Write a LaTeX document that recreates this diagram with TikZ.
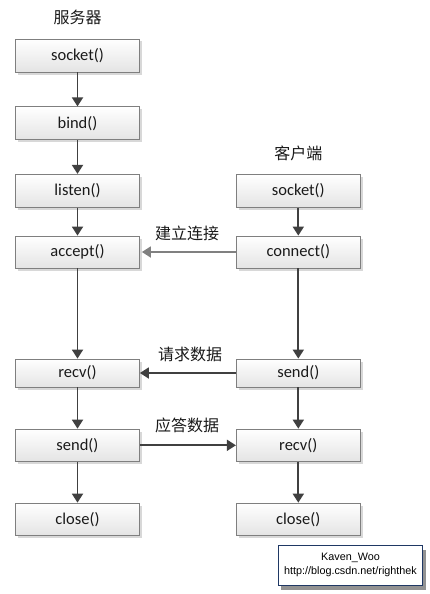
\documentclass[tikz,border=0pt]{standalone}
\usepackage{fontspec}
\setmainfont{Carlito}
\newfontfamily\cjkf{Noto Sans CJK SC}
\newfontfamily\arialf{Liberation Sans}
\usetikzlibrary{shadows,arrows.meta}
\definecolor{boxline}{HTML}{7F7F7F}
\definecolor{boxbot}{HTML}{E4E4E4}
\definecolor{textc}{HTML}{1A1A1A}
\definecolor{arrowc}{HTML}{404040}
\definecolor{lightarrow}{HTML}{808080}
\definecolor{navy}{HTML}{1F3864}
\tikzset{
  fnbox/.style={draw=boxline, line width=0.8pt, top color=white, bottom color=boxbot,
    minimum width=124pt, minimum height=33pt, inner sep=0pt, text=textc,
    font=\fontsize{16.5}{19}\selectfont,
    drop shadow={shadow xshift=2.5pt, shadow yshift=-2.5pt, fill=black!30, opacity=0.5}},
  shortbox/.style={fnbox, minimum height=28pt},
  cjklabel/.style={font=\cjkf\fontsize{16}{19}\selectfont, text=textc, inner sep=0pt},
  flow/.style={draw=arrowc, line width=1.8pt, -{Triangle[length=9pt,width=11pt]}},
  lightflow/.style={flow, draw=lightarrow},
}
\begin{document}
\begin{tikzpicture}[x=1pt,y=-1pt]
\useasboundingbox (0,0) rectangle (430,594);
\fill[white] (0,0) rectangle (430,594);
% titles
\node[cjklabel] (srv) at (77.5,17.5) {服务器};
\node[cjklabel] (cli) at (298.3,153.3) {客户端};
% server column
\node[fnbox] (ssock) at (77.5,55.5) {socket()};
\node[fnbox] (sbind) at (77.5,123.3) {bind()};
\node[fnbox] (slist) at (77.5,190.8) {listen()};
\node[fnbox, minimum height=32pt] (sacc) at (77.5,252) {accept()};
\node[shortbox] (srecv) at (77.5,373) {recv()};
\node[fnbox, minimum height=32.5pt] (ssend) at (77.5,445.3) {send()};
\node[fnbox, minimum height=32.5pt] (sclose) at (77.5,519.3) {close()};
% client column
\node[fnbox] (csock) at (298.3,190.8) {socket()};
\node[fnbox, minimum height=32pt] (cconn) at (298.3,252) {connect()};
\node[shortbox] (csend) at (298.3,373) {send()};
\node[fnbox, minimum height=32.5pt] (crecv) at (298.3,445.3) {recv()};
\node[fnbox, minimum height=32.5pt] (cclose) at (298.3,519.3) {close()};
% vertical arrows
\draw[flow] (ssock) -- (sbind);
\draw[flow] (sbind) -- (slist);
\draw[flow] (slist) -- (sacc);
\draw[flow] (sacc) -- (srecv);
\draw[flow] (srecv) -- (ssend);
\draw[flow] (ssend) -- (sclose);
\draw[flow] (csock) -- (cconn);
\draw[flow] (cconn) -- (csend);
\draw[flow] (csend) -- (crecv);
\draw[flow] (crecv) -- (cclose);
% horizontal arrows
\draw[lightflow, shorten >=2pt] (cconn) -- (sacc);
\draw[flow] (csend) -- (srecv);
\draw[flow] (ssend) -- (crecv);
\node[cjklabel] (lconn) at (187,233) {建立连接};
\node[cjklabel] (lreq) at (190,354) {请求数据};
\node[cjklabel] (lresp) at (187,425) {应答数据};
% watermark
\node[draw=navy, line width=1pt, fill=white, minimum width=144.5pt, minimum height=40pt,
  inner sep=0pt, align=center, font=\arialf\fontsize{10.8}{13.4}\selectfont, text=black,
  drop shadow={shadow xshift=3pt, shadow yshift=-4.5pt, fill=black!65, opacity=0.65}]
  (wm) at (350.5,565) {Kaven\_Woo\\http://blog.csdn.net/righthek};
\end{tikzpicture}
\end{document}
